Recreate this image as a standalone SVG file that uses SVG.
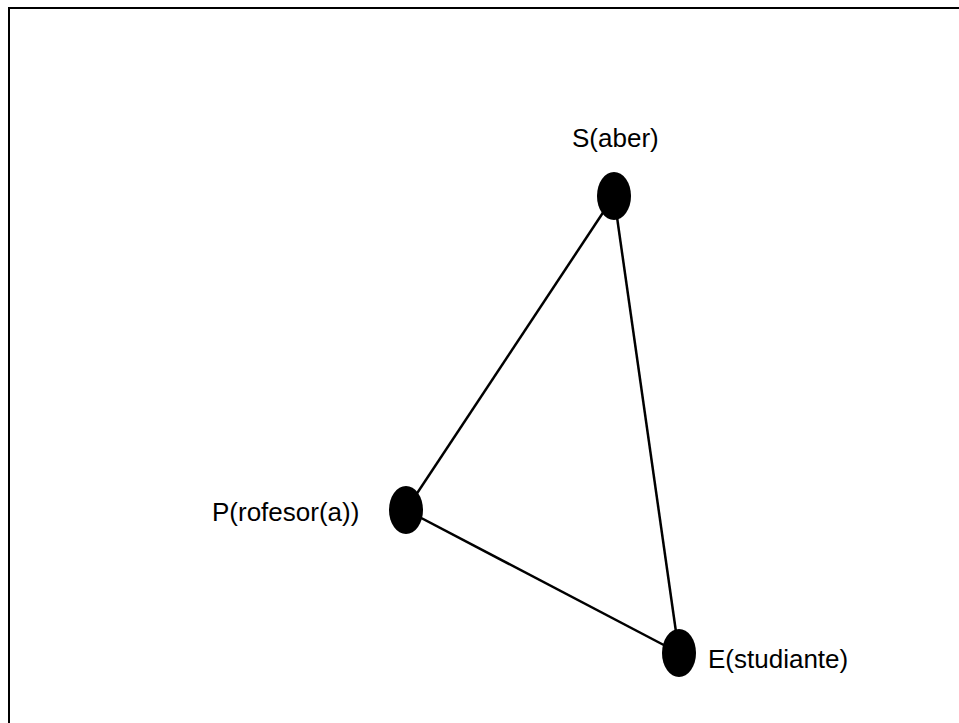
<svg xmlns="http://www.w3.org/2000/svg" width="959" height="723" viewBox="0 0 959 723">
<style>
.frame{fill:none;stroke:#000;stroke-width:2}
.edge{stroke:#000;stroke-width:2.5;fill:none}
.node{fill:#000}
.lbl{font-family:"Liberation Sans",Arial,sans-serif;font-size:26px;fill:#000}
</style>
<rect width="959" height="723" fill="#fff"/>
<path class="frame" d="M9 723 V8 H959"/>
<g id="connectors">
<line class="edge" x1="614" y1="196" x2="406" y2="510"/>
<line class="edge" x1="614" y1="196" x2="679" y2="653"/>
<line class="edge" x1="406" y1="510" x2="679" y2="653"/>
</g>
<g id="node-S">
<ellipse class="node" cx="614" cy="196" rx="17" ry="24"/>
<text class="lbl" x="572" y="147">S(aber)</text>
</g>
<g id="node-P">
<ellipse class="node" cx="406" cy="510" rx="17" ry="24"/>
<text class="lbl" x="212" y="521">P(rofesor(a))</text>
</g>
<g id="node-E">
<ellipse class="node" cx="679" cy="653" rx="17" ry="24"/>
<text class="lbl" x="708" y="668">E(studiante)</text>
</g>
</svg>
